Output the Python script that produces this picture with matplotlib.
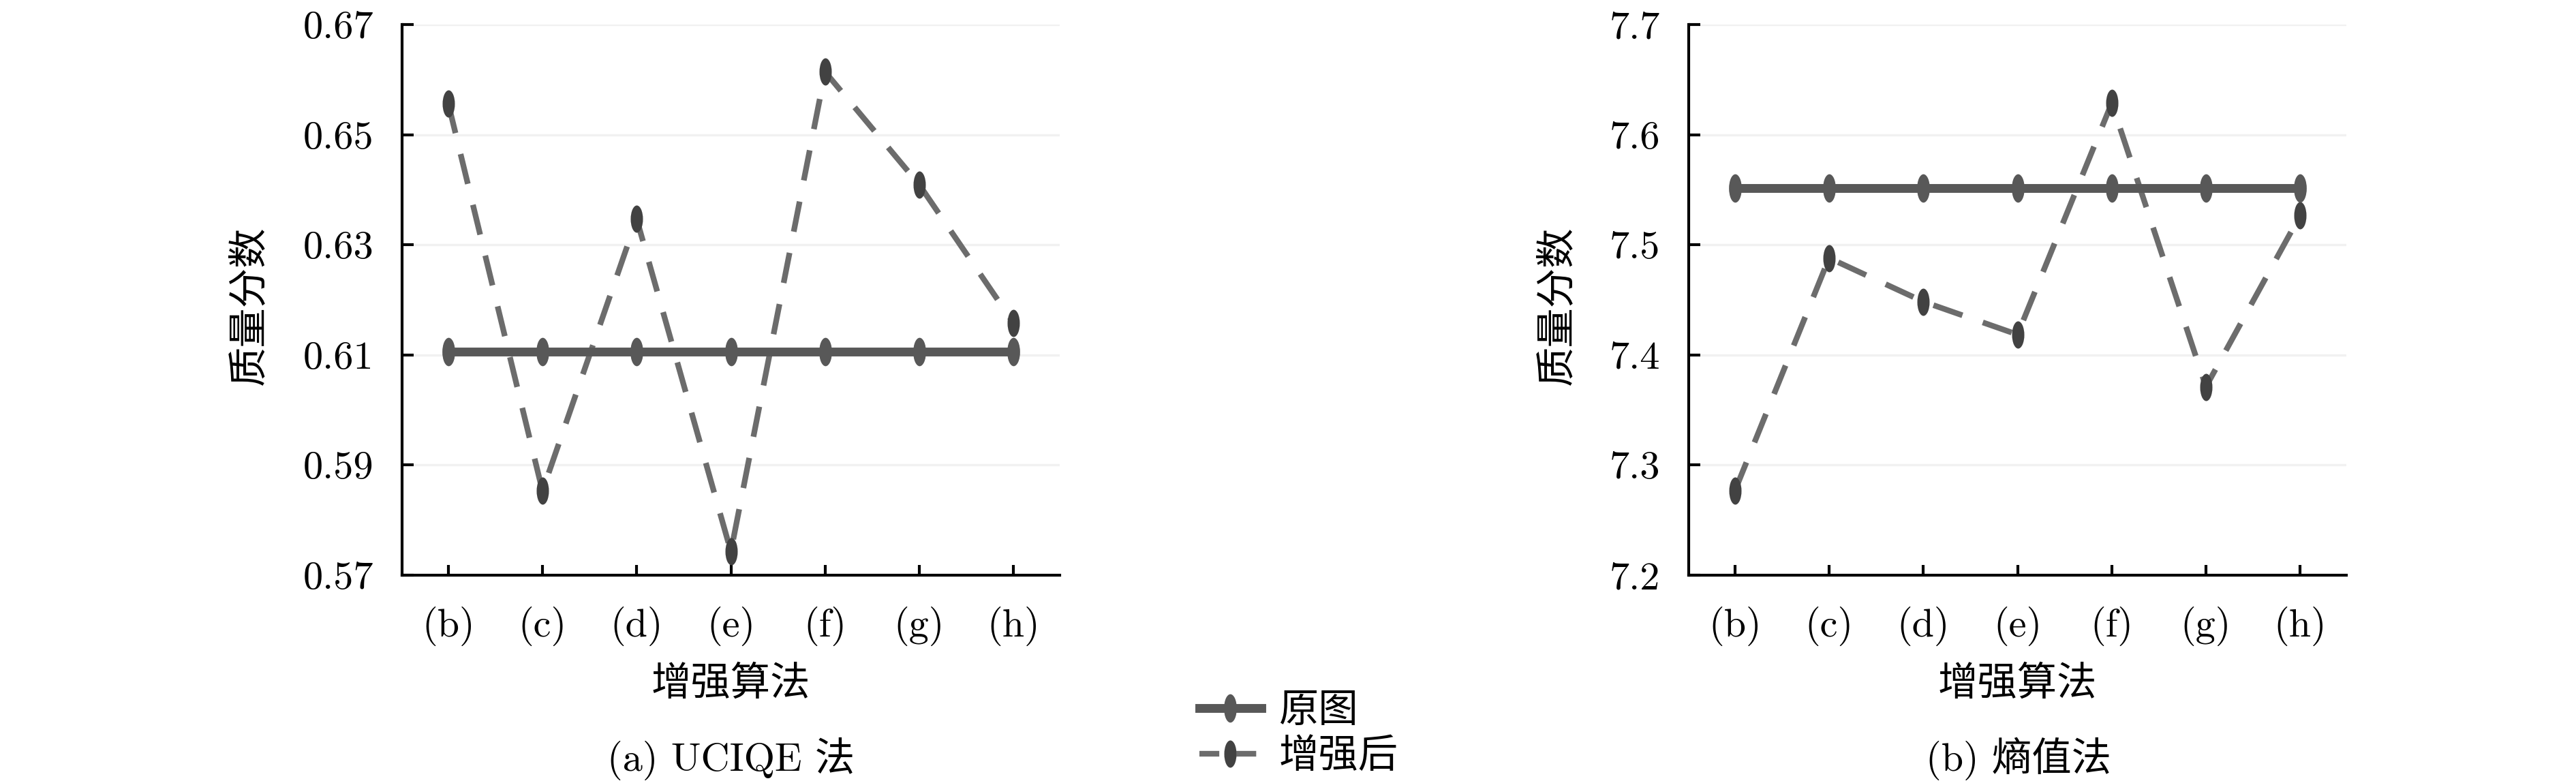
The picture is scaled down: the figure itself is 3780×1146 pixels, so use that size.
import numpy as np
import matplotlib
matplotlib.use("Agg")
import matplotlib.pyplot as plt
from matplotlib.path import Path
from matplotlib.lines import Line2D

plt.rcParams['font.family'] = ['cmr10', 'Noto Sans CJK SC', 'DejaVu Sans']
plt.rcParams['axes.formatter.use_mathtext'] = True

# ---- data ----
categories = ['(b)', '(c)', '(d)', '(e)', '(f)', '(g)', '(h)']
uciqe_orig = [0.6106] * 7
uciqe_enh = [0.6557, 0.5853, 0.6347, 0.5743, 0.6614, 0.6409, 0.6158]
entropy_orig = [7.5517] * 7
entropy_enh = [7.2766, 7.4880, 7.4484, 7.4185, 7.6287, 7.3711, 7.5268]
uciqe_ticks = [0.57, 0.59, 0.61, 0.63, 0.65, 0.67]
uciqe_ticklabels = ['0.57', '0.59', '0.61', '0.63', '0.65', '0.67']
entropy_ticks = [7.2, 7.3, 7.4, 7.5, 7.6, 7.7]
entropy_ticklabels = ['7.2', '7.3', '7.4', '7.5', '7.6', '7.7']
series_names = ['原图', '增强后']
ylabel = '质量分数'
xlabel = '增强算法'
captions = ['(a) UCIQE 法', '(b) 熵值法']

# ---- style ----
W, H = 3780, 1146
fig = plt.figure(figsize=(W / 300, H / 300), dpi=300)

circ = Path.unit_circle()
ell = Path(circ.vertices * np.array([0.45, 1.0]), circ.codes)

solid_col = '#585858'
dash_col = '#6c6c6c'
mark_col = '#424242'
FS = 14
SOLID_LW = 3.1
DASH_LW = 2.0
DASH_PAT = (0, (5.4, 3.8))

def make_ax(left_px, vals_o, vals_e, ticks, ticklabels, ylab_x):
    ax = fig.add_axes([left_px / W, 302 / H, 965 / W, 808 / H])
    x = np.arange(len(categories))
    ax.grid(axis='y', color='#f1f1f1', linewidth=0.8, zorder=0)
    ax.plot(x, vals_e, color=dash_col, linewidth=DASH_LW, linestyle=DASH_PAT,
            marker=ell, markersize=9.6, markerfacecolor=mark_col,
            markeredgecolor=mark_col, markeredgewidth=0, zorder=3)
    ax.plot(x, vals_o, color=solid_col, linewidth=SOLID_LW, linestyle='-',
            marker=ell, markersize=10.0, markerfacecolor=solid_col,
            markeredgecolor=solid_col, markeredgewidth=0, zorder=4)
    ax.set_xlim(-0.49, 6.49)
    ax.set_ylim(ticks[0], ticks[-1])
    ax.set_xticks(x, categories)
    ax.set_yticks(ticks, ticklabels)
    for s in ['top', 'right']:
        ax.spines[s].set_visible(False)
    for s in ['left', 'bottom']:
        ax.spines[s].set_linewidth(1.0)
        ax.spines[s].set_color('black')
    ax.tick_params(axis='both', direction='in', width=1.0, labelsize=FS)
    ax.tick_params(axis='y', length=4, pad=10)
    ax.tick_params(axis='x', length=3.5, pad=11)
    ax.set_ylabel(ylabel, fontsize=FS, family=['Noto Sans CJK SC'])
    ax.yaxis.set_label_coords(ylab_x, 0.49)
    ax.set_xlabel(xlabel, fontsize=FS, family=['Noto Sans CJK SC'])
    ax.xaxis.set_label_coords(0.5, -0.197)
    ax.xaxis.label.set_va('center')
    ax.yaxis.label.set_va('center')
    return ax

ax1 = make_ax(590, uciqe_orig, uciqe_enh, uciqe_ticks, uciqe_ticklabels, -0.232)
ax2 = make_ax(2478, entropy_orig, entropy_enh, entropy_ticks, entropy_ticklabels, -0.200)

fig.text(1073 / W, 1 - 1113 / H, captions[0], ha='center', va='center', fontsize=FS)
fig.text(2962 / W, 1 - 1113 / H, captions[1], ha='center', va='center', fontsize=FS)

handles = [
    Line2D([], [], color=solid_col, linewidth=SOLID_LW, marker=ell, markersize=10.0,
           markerfacecolor=solid_col, markeredgewidth=0),
    Line2D([], [], color=dash_col, linewidth=DASH_LW, linestyle=(0, (3.5, 3.0)), marker=ell,
           markersize=9.6, markerfacecolor=mark_col, markeredgewidth=0),
]
leg = fig.legend(handles, series_names, loc='center', bbox_to_anchor=(1906 / W, 1 - 1076 / H),
                 frameon=False, fontsize=FS, handlelength=1.55, handletextpad=0.45,
                 labelspacing=0.1, borderpad=0, prop={'family': ['Noto Sans CJK SC'], 'size': FS})

fig.savefig('out.png', dpi=300, facecolor='white')
